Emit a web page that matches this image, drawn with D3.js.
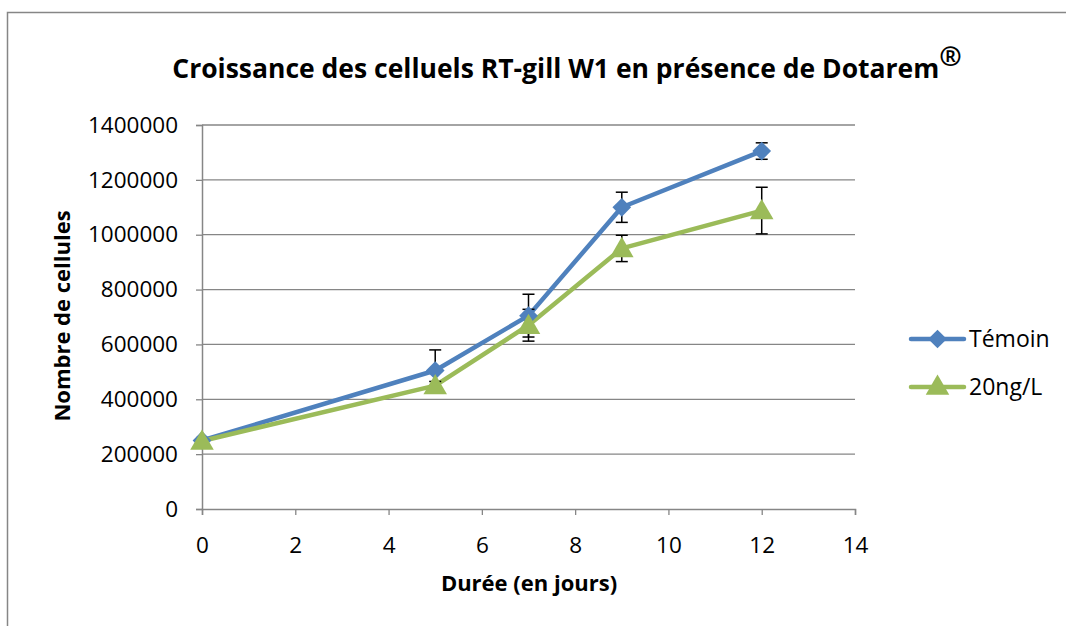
<!DOCTYPE html>
<html>
<head>
<meta charset="utf-8">
<script src="https://cdn.jsdelivr.net/npm/d3@7"></script>
<style>
  body { margin: 0; background: #fff; }
  svg text { font-family: "Open Sans", "Liberation Sans", sans-serif; fill: #000; }
</style>
</head>
<body>
<svg id="chart" width="1066" height="626"></svg>
<script>
const days = [0, 5, 7, 9, 12];
const temoin = [250000, 505000, 705000, 1100000, 1305000];
const temoinErr = [10000, 75000, 78000, 55000, 30000];
const dose = [248000, 450000, 670000, 950000, 1088000];
const doseErr = [10000, 15000, 58000, 48000, 85000];
const xTicks = [0, 2, 4, 6, 8, 10, 12, 14];
const yTicks = [0, 200000, 400000, 600000, 800000, 1000000, 1200000, 1400000];

const series = [
    { name: 'Témoin', values: temoin, err: temoinErr, color: '#4F81BD', shape: 'diamond' },
    { name: '20ng/L', values: dose, err: doseErr, color: '#9BBB59', shape: 'triangle' }
];

const svg = d3.select('#chart');

// outer frame of the chart area
svg.append('rect')
    .attr('x', 7.5).attr('y', 12.5)
    .attr('width', 1100).attr('height', 700)
    .attr('fill', 'none').attr('stroke', '#868686').attr('stroke-width', 1.5);

let x = d3.scaleLinear().domain([0, 14]).range([202, 855]);
let y = d3.scaleLinear().domain([0, 1400000]).range([509, 125]);

function marker(g, shape, cx, cy, color) {
    if (shape === 'diamond') {
        g.append('path')
            .attr('transform', `translate(${cx},${cy}) rotate(45)`)
            .attr('d', d3.symbol().type(d3.symbolSquare).size(175))
            .attr('fill', color);
    } else {
        g.append('path')
            .attr('transform', `translate(${cx},${cy + 2})`)
            .attr('d', d3.symbol().type(d3.symbolTriangle).size(240))
            .attr('fill', color);
    }
}

// gridlines
svg.append('g')
    .selectAll('line')
    .data(yTicks.slice(1))
    .enter().append('line')
    .attr('x1', x(0)).attr('x2', x(14))
    .attr('y1', d => y(d)).attr('y2', d => y(d))
    .attr('stroke', '#868686').attr('stroke-width', 1.3);

let xAxis = svg.append('g')
    .attr('transform', `translate(0,${y(0)})`)
    .call(d3.axisBottom(x).tickValues(xTicks).tickSize(6).tickPadding(22).tickFormat(d3.format('d')));

let yAxis = svg.append('g')
    .attr('transform', `translate(${x(0)},0)`)
    .call(d3.axisLeft(y).tickValues(yTicks).tickSize(6).tickPadding(18).tickFormat(d3.format('d')));

[xAxis, yAxis].forEach(ax => {
    ax.select('.domain').attr('stroke', '#868686').attr('stroke-width', 1.5);
    ax.selectAll('.tick line').attr('stroke', '#868686').attr('stroke-width', 1.3);
    ax.selectAll('.tick text').attr('font-size', 22.5).attr('fill', '#000')
        .style('font-family', '"Open Sans", sans-serif');
});

let line = d3.line()
    .x((d, i) => x(days[i]))
    .y(d => y(d));

series.forEach(s => {
    svg.append('path')
        .datum(s.values)
        .attr('fill', 'none')
        .attr('stroke', s.color)
        .attr('stroke-width', 4.5)
        .attr('stroke-linejoin', 'round')
        .attr('d', line);
});

// error bars
series.forEach(s => {
    let g = svg.append('g');
    s.values.forEach((v, i) => {
        let cx = x(days[i]);
        let top = y(v + s.err[i]);
        let bot = y(v - s.err[i]);
        g.append('line').attr('x1', cx).attr('x2', cx).attr('y1', top).attr('y2', bot)
            .attr('stroke', '#000').attr('stroke-width', 1.5);
        [top, bot].forEach(yy => {
            g.append('line').attr('x1', cx - 6).attr('x2', cx + 6).attr('y1', yy).attr('y2', yy)
                .attr('stroke', '#000').attr('stroke-width', 1.5);
        });
    });
});

// markers
series.forEach(s => {
    let g = svg.append('g');
    s.values.forEach((v, i) => marker(g, s.shape, x(days[i]), y(v), s.color));
});

// legend
series.forEach((s, i) => {
    let ly = 339 + i * 48;
    let g = svg.append('g');
    g.append('line')
        .attr('x1', 911).attr('x2', 964).attr('y1', ly).attr('y2', ly)
        .attr('stroke', s.color).attr('stroke-width', 4.5).attr('stroke-linecap', 'round');
    marker(g, s.shape, 937.5, ly - (s.shape === 'triangle' ? 1 : 0), s.color);
    g.append('text')
        .attr('x', 969).attr('y', ly)
        .attr('dy', '0.35em')
        .attr('font-size', 23)
        .text(s.name);
});

// titles
let title = svg.append('text')
    .attr('x', 567).attr('y', 78)
    .attr('text-anchor', 'middle')
    .attr('font-size', 26.5)
    .attr('font-weight', 'bold');
title.append('tspan').text('Croissance des celluels RT-gill W1 en présence de Dotarem');
title.append('tspan').attr('dy', -12).attr('font-size', 27).text('®');

svg.append('text')
    .attr('x', 529).attr('y', 591)
    .attr('text-anchor', 'middle')
    .attr('font-size', 22)
    .attr('font-weight', 'bold')
    .text('Durée (en jours)');

svg.append('text')
    .attr('transform', 'translate(70,316) rotate(-90)')
    .attr('text-anchor', 'middle')
    .attr('font-size', 22)
    .attr('font-weight', 'bold')
    .text('Nombre de cellules');
</script>
</body>
</html>
